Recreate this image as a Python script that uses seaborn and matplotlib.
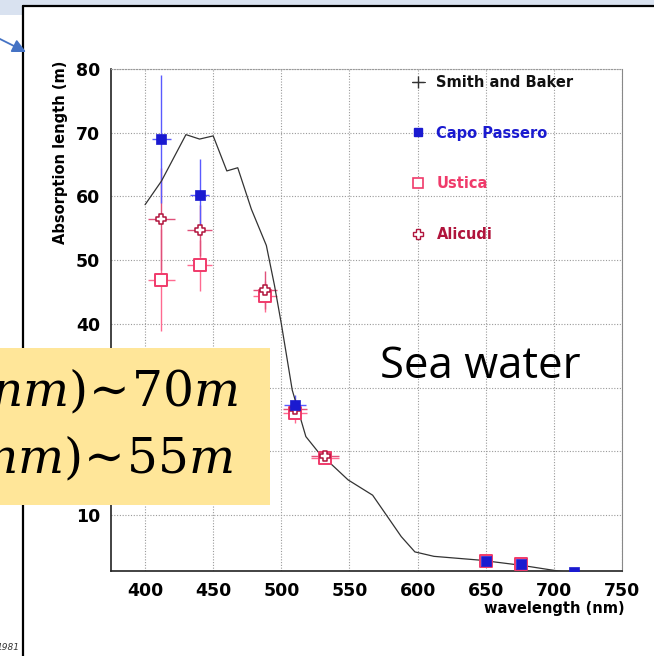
import matplotlib
matplotlib.use("Agg")
import matplotlib.pyplot as plt
import seaborn as sns
from matplotlib.lines import Line2D
from matplotlib.patches import Rectangle, FancyArrowPatch
from matplotlib.ticker import MultipleLocator

# Smith and Baker pure-water absorption length curve
sb_wl = [400, 412, 430, 440, 450, 460, 468, 478, 489, 495, 500, 508, 518, 527,
         549, 567, 578, 588, 598, 612, 646, 676, 697, 713]
sb_len = [58.7, 62.4, 69.7, 69.0, 69.5, 64.0, 64.5, 58.0, 52.3, 46.0, 40.0, 29.6,
          22.3, 19.9, 15.5, 13.1, 9.7, 6.6, 4.2, 3.5, 2.9, 2.1, 1.4, 0.9]

# Capo Passero
cp_wl = [412, 440, 510, 650, 676, 715]
cp_len = [69.0, 60.3, 27.3, 2.8, 2.3, 1.1]
cp_yerr = [10.0, 5.5, 1.5, 0.3, 0.3, 0.2]
cp_xerr = [7, 7, 8, 0, 0, 0]

# Ustica
us_wl = [412, 440, 488, 510, 532, 650, 676]
us_len = [46.9, 49.2, 44.3, 26.0, 18.9, 2.8, 2.3]
us_yerr = [8.0, 4.0, 2.5, 1.5, 0.7, 0.3, 0.3]
us_xerr = [10, 9, 9, 9, 10, 0, 0]

# Alicudi
al_wl = [412, 440, 488, 510, 532]
al_len = [56.4, 54.7, 45.3, 26.6, 19.3]
al_yerr = [8.0, 4.0, 3.0, 1.5, 0.7]
al_xerr = [10, 9, 9, 9, 10]

x_ticks = [400, 450, 500, 550, 600, 650, 700, 750]
y_ticks = [10, 20, 30, 40, 50, 60, 70, 80]

c_cp = "#1a1ad0"
c_us = "#f03a6a"
c_al = "#b0143c"

sns.set_style("white")
plt.rcParams['font.family'] = ['DejaVu Sans']
plt.rcParams['text.color'] = 'black'

W, H = 654, 656
fig = plt.figure(figsize=(W / 100, H / 100), dpi=100)
ax = fig.add_axes([111 / W, 1 - 571 / H, 511 / W, 502 / H])

# curve
sns.lineplot(x=sb_wl, y=sb_len, ax=ax, color="#333333", linewidth=0.9, zorder=3)

# error bars
ax.errorbar(us_wl, us_len, yerr=us_yerr, xerr=us_xerr, fmt="none",
            ecolor="#ff6a90", elinewidth=1.0, zorder=2)
ax.errorbar(al_wl, al_len, yerr=al_yerr, xerr=al_xerr, fmt="none",
            ecolor="#e0507a", elinewidth=1.0, zorder=2)
ax.errorbar(cp_wl, cp_len, yerr=cp_yerr, xerr=cp_xerr, fmt="none",
            ecolor="#5a5aff", elinewidth=1.0, zorder=2)

# markers
sns.scatterplot(x=us_wl, y=us_len, ax=ax, marker="s", s=70, facecolor="white",
                edgecolor=c_us, linewidth=1.4, zorder=4)
sns.scatterplot(x=al_wl, y=al_len, ax=ax, marker="P", s=48, facecolor="white",
                edgecolor=c_al, linewidth=1.1, zorder=5)
sns.scatterplot(x=cp_wl, y=cp_len, ax=ax, marker="s", s=45, color=c_cp,
                edgecolor=c_cp, linewidth=0.5, zorder=6)

ax.set_xlim(375, 750)
ax.set_ylim(1.2, 80)
ax.set_xticks(x_ticks)
ax.set_yticks(y_ticks)
ax.xaxis.set_minor_locator(MultipleLocator(25))
ax.yaxis.set_minor_locator(MultipleLocator(2))
ax.tick_params(which="both", direction="in", top=False, right=False)
ax.tick_params(which="major", length=7, width=0.8, labelsize=12.5,
               labelcolor="black")
ax.tick_params(which="minor", length=4, width=0.6)
ax.tick_params(axis="x", pad=8)
ax.tick_params(axis="y", pad=8)
for lab in ax.get_xticklabels() + ax.get_yticklabels():
    lab.set_fontweight("bold")

ax.grid(True, which="major", color="#9a9a9a", linestyle=(0, (1, 1.5)), linewidth=0.8)
for s in ["left", "bottom"]:
    ax.spines[s].set_color("#222222")
    ax.spines[s].set_linewidth(1.2)
ax.spines["right"].set_color("#888888")
ax.spines["top"].set_color("#999999")
ax.spines["top"].set_linestyle((0, (1, 1.5)))
ax.set_xlabel("")
ax.set_ylabel("")

# legend
handles = [
    Line2D([], [], color="#333333", lw=0.8, marker="+", markersize=8),
    Line2D([], [], color=c_cp, marker="s", linestyle="none", markersize=6),
    Line2D([], [], color=c_us, marker="s", linestyle="none", markersize=7,
           markerfacecolor="white", markeredgewidth=1.2),
    Line2D([], [], color=c_al, marker="P", linestyle="none", markersize=7,
           markerfacecolor="white", markeredgewidth=1.0),
]
labels = ["Smith and Baker", "Capo Passero", "Ustica", "Alicudi"]
leg = ax.legend(handles, labels, loc="upper left", bbox_to_anchor=(0.577, 1.0),
                frameon=False, labelspacing=2.45, handlelength=0.9,
                handletextpad=0.8, borderaxespad=0,
                prop={"weight": "bold", "size": 10.5})
for txt, col in zip(leg.get_texts(), ["#111111", c_cp, c_us, c_al]):
    txt.set_color(col)

# axis titles, ROOT style
fig.text(60 / W, 1 - 61 / H, "Absorption length (m)", rotation=90, ha="center",
         va="top", fontsize=10.5, fontweight="bold")
fig.text(625 / W, 1 - 609 / H, "wavelength (nm)", ha="right", va="center",
         fontsize=10.5, fontweight="bold")

# slide decorations
fig.add_artist(Rectangle((0, 1 - 6 / H), 1, 6 / H, transform=fig.transFigure,
                         facecolor="#d9e2f0", edgecolor="none", zorder=5))
fig.add_artist(Rectangle((0, 1 - 15 / H), 22 / W, 15 / H, transform=fig.transFigure,
                         facecolor="#d9e2f0", edgecolor="none", zorder=5))
fig.add_artist(Line2D([23 / W, 23 / W], [0, 1 - 6 / H], transform=fig.transFigure,
                      color="black", lw=1.6, zorder=6))
fig.add_artist(Line2D([23 / W, 1], [1 - 6 / H, 1 - 6 / H], transform=fig.transFigure,
                      color="black", lw=1.6, zorder=6))
fig.add_artist(FancyArrowPatch((-2 / W, 1 - 38 / H), (26 / W, 1 - 52 / H),
                               transform=fig.transFigure, arrowstyle="-|>",
                               mutation_scale=20, color="#4472c4", lw=1.3,
                               shrinkA=0, shrinkB=0, zorder=6))
fig.text(-3 / W, 1 - 648 / H, "1981", fontsize=6.5, style="italic", va="center",
         color="#333333", zorder=6)

fig.add_artist(Rectangle((0, 1 - 505 / H), 270 / W, 157 / H, transform=fig.transFigure,
                         facecolor="#ffe699", edgecolor="none", zorder=7))
fig.text(238 / W, 1 - 392 / H, r"$nm)\!\sim\!70m$", ha="right", va="center",
         fontsize=35, math_fontfamily="dejavuserif", color="black", zorder=8)
fig.text(233 / W, 1 - 459 / H, r"$nm)\!\sim\!55m$", ha="right", va="center",
         fontsize=35, math_fontfamily="dejavuserif", color="black", zorder=8)

fig.text(380 / W, 1 - 378 / H, "Sea water", fontsize=31.5, family="Open Sans",
         va="baseline", ha="left", color="black", zorder=8)

fig.savefig("out.png", dpi=100)
